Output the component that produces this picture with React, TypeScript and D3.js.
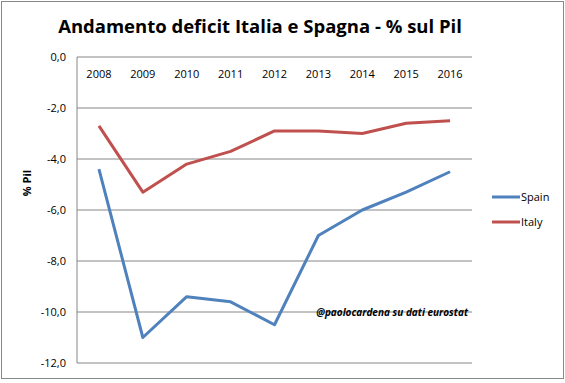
import React from "react";
import * as d3 from "d3";

const years = ["2008", "2009", "2010", "2011", "2012", "2013", "2014", "2015", "2016"];
const spain = [-4.4, -11.0, -9.4, -9.6, -10.5, -7.0, -6.0, -5.3, -4.5];
const italy = [-2.7, -5.3, -4.2, -3.7, -2.9, -2.9, -3.0, -2.6, -2.5];
const yTicks = [0, -2, -4, -6, -8, -10, -12];
const seriesNames = ["Spain", "Italy"];
const seriesColors = ["#4F81BD", "#C0504D"];

const W = 565;
const H = 383;
const font = "'Open Sans', 'DejaVu Sans', sans-serif";

export default function App() {
  const x = d3.scaleBand<string>().domain(years).range([77, 472]);
  const y = d3.scaleLinear().domain([-12, 0]).range([363, 57]);
  const line = d3
    .line<number>()
    .x((_, i) => (x(years[i]) as number) + x.bandwidth() / 2)
    .y((d) => y(d));
  const series = [spain, italy];
  const fmt = (v: number) => v.toFixed(1).replace(".", ",");

  return (
    <svg
      width={W}
      height={H}
      style={{ position: "absolute", left: 0, top: 0, background: "#fff" }}
    >
      <rect x={1.5} y={1.5} width={562} height={377} fill="#fff" stroke="#888" strokeWidth={1} />
      <text
        x={260}
        y={33}
        textAnchor="middle"
        fontFamily="'Open Sans', sans-serif"
        fontWeight="bold"
        fontSize={18.5}
        fill="#000"
      >
        Andamento deficit Italia e Spagna - % sul Pil
      </text>
      {yTicks.map((t) => (
        <g key={t}>
          <line x1={77} x2={472} y1={y(t)} y2={y(t)} stroke="#868686" strokeWidth={1} />
          <text
            x={66}
            y={y(t) + 4}
            textAnchor="end"
            fontFamily={font}
            fontSize={11}
            fill="#000"
          >
            {fmt(t)}
          </text>
        </g>
      ))}
      <line x1={77} x2={77} y1={y(0)} y2={y(-12)} stroke="#868686" strokeWidth={1} />
      {years.map((yr) => (
        <text
          key={yr}
          x={(x(yr) as number) + x.bandwidth() / 2}
          y={78}
          textAnchor="middle"
          fontFamily={font}
          fontSize={11}
          fill="#000"
        >
          {yr}
        </text>
      ))}
      <text
        transform={`translate(31,183) rotate(-90)`}
        textAnchor="middle"
        fontFamily={font}
        fontWeight="bold"
        fontSize={11}
        fill="#000"
      >
        % Pil
      </text>
      {series.map((s, i) => (
        <path
          key={i}
          d={line(s) as string}
          fill="none"
          stroke={seriesColors[i]}
          strokeWidth={3}
          strokeLinejoin="round"
        />
      ))}
      {seriesNames.map((n, i) => (
        <g key={n}>
          <line x1={492} x2={520} y1={197 + i * 25} y2={197 + i * 25} stroke={seriesColors[i]} strokeWidth={3} />
          <text x={521} y={201 + i * 25} fontFamily={font} fontSize={11} fill="#000">
            {n}
          </text>
        </g>
      ))}
      <text
        x={468}
        y={316}
        textAnchor="end"
        fontFamily={font}
        fontWeight="bold"
        fontStyle="italic"
        fontSize={10}
        fill="#000"
      >
        @paolocardena su dati eurostat
      </text>
    </svg>
  );
}
